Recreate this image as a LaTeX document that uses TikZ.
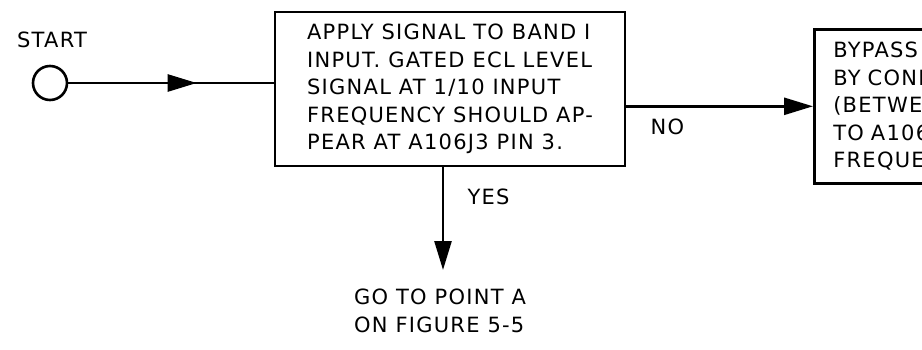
\documentclass[tikz,border=0pt]{standalone}
\usepackage{fontspec}
\newfontfamily\manualfont[LetterSpace=6]{DejaVu Sans}
\usetikzlibrary{arrows.meta}
\usetikzlibrary{decorations.markings}

\begin{document}
\begin{tikzpicture}[x=1pt,y=-1pt,line width=2.6pt,
    every node/.style={font=\manualfont\fontsize{21}{27.5}\selectfont},
    box/.style={draw,rectangle,inner sep=0pt,align=left},
    tip/.style={-{Triangle[length=29pt,width=17pt]}},
    midtip/.style={postaction={decorate},decoration={markings,
      mark=at position #1 with {\arrow{Triangle[length=29pt,width=17pt]}}}}]
  \useasboundingbox (0,0) rectangle (922,349);
  \clip (0,0) rectangle (922,349);
  \node (startlbl) at (52,40) {START};
  \node[draw,circle,minimum size=34pt,inner sep=0pt] (circ) at (50,83) {};
  \node[box,minimum width=350pt,minimum height=154pt] (apply) at (450,89)
    {APPLY SIGNAL TO BAND I\\ INPUT. GATED ECL LEVEL\\ SIGNAL AT 1/10 INPUT\\
     FREQUENCY SHOULD AP-\\ PEAR AT A106J3 PIN 3.};
  \node[box,anchor=north west,minimum height=154pt,inner xsep=19pt,text width=180pt] (bypass) at (813,28)
    {BYPASS\\ BY CONN\\ (BETWE\\ TO A106J\\ FREQUEN};
  \node[align=left] (goto) at (440,311) {GO TO POINT A\\ ON FIGURE 5-5};
  \coordinate (yesend) at (443,270);
  % flow lines
  \draw[midtip=0.625] (circ) -- (circ -| apply.west);
  \draw[tip] (bypass.west -| apply.east) -- node[pos=0.22,below=8pt] {NO} (bypass.west);
  \draw[tip] (apply.south -| yesend) -- node[pos=0.29,right=20pt] {YES} (yesend);
\end{tikzpicture}
\end{document}
